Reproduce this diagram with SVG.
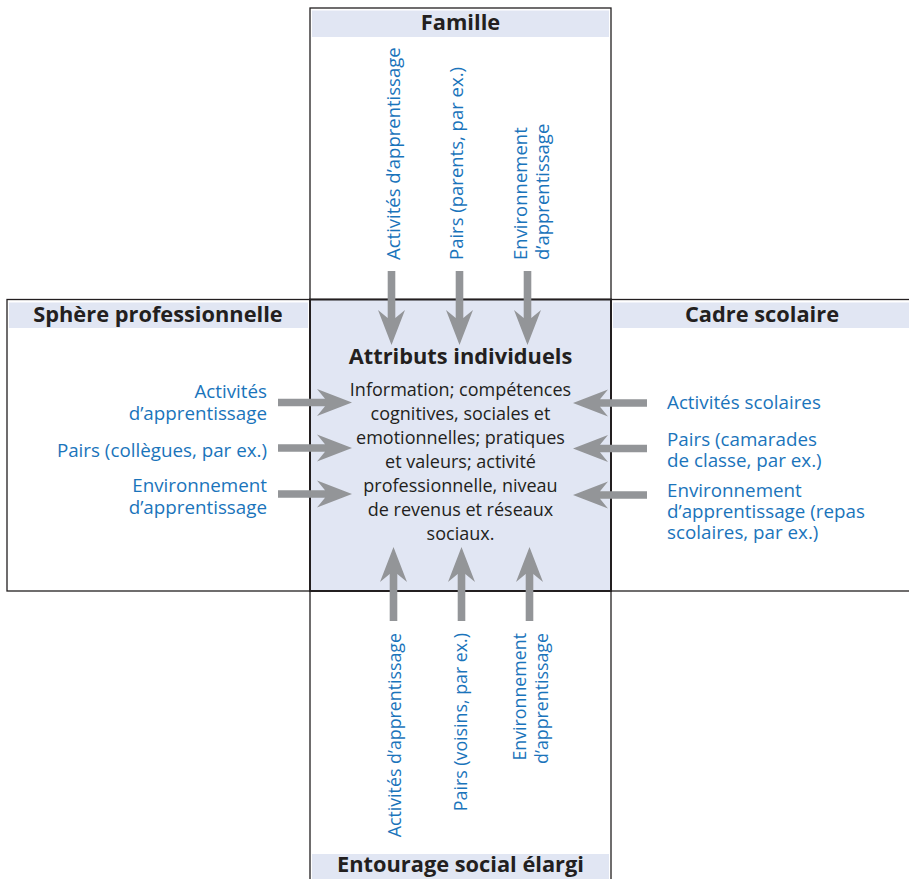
<svg xmlns="http://www.w3.org/2000/svg" width="909" height="879" viewBox="0 0 909 879">
<style>
.frame{fill:#ffffff;stroke:#231f20;stroke-width:1.3}
.band{fill:#e1e6f3}
.core{fill:#e1e6f3;stroke:#231f20;stroke-width:2}
.hdr{font-family:"Open Sans","Liberation Sans",sans-serif;font-weight:bold;font-size:21.8px;fill:#231f20;text-anchor:middle}
.ttl{font-family:"Open Sans","Liberation Sans",sans-serif;font-weight:bold;font-size:21.8px;fill:#231f20;text-anchor:middle}
.body{font-family:"Open Sans","Liberation Sans",sans-serif;font-size:18px;fill:#231f20;text-anchor:middle}
.lbl{font-family:"Open Sans","Liberation Sans",sans-serif;font-size:18.8px;fill:#1a74bb}
.vt{font-size:18.5px}
.vb{font-size:17.8px}
.r{text-anchor:end}
.arr{fill:#939598}
</style>
<defs>
<polygon id="arrow" points="0,0 -35,-13.5 -27,-3.8 -74,-3.8 -74,3.8 -27,3.8 -35,13.5"/>
</defs>
<g id="frames">
<rect class="frame" x="310" y="8" width="301" height="900"/>
<rect class="frame" x="7" y="299.5" width="920" height="291.5"/>
</g>
<g id="famille">
<rect class="band" x="312" y="10.5" width="297" height="26.5"/>
<text class="hdr" x="460.5" y="30">Famille</text>
<text class="lbl vt" transform="translate(400,260) rotate(-90)">Activités d’apprentissage</text>
<text class="lbl vt" transform="translate(463,260) rotate(-90)">Pairs (parents, par ex.)</text>
<text class="lbl vt" transform="translate(527,260) rotate(-90)">Environnement</text>
<text class="lbl vt" transform="translate(549,260) rotate(-90)">d’apprentissage</text>
</g>
<g id="sphere-professionnelle">
<rect class="band" x="9" y="302.5" width="299" height="25.5"/>
<text class="hdr" x="158" y="321.5">Sphère professionnelle</text>
<text class="lbl r" x="267" y="398">Activités</text>
<text class="lbl r" x="267" y="420">d’apprentissage</text>
<text class="lbl r" x="267" y="457">Pairs (collègues, par ex.)</text>
<text class="lbl r" x="267" y="492">Environnement</text>
<text class="lbl r" x="267" y="514">d’apprentissage</text>
</g>
<g id="cadre-scolaire">
<rect class="band" x="613" y="302.5" width="296" height="25.5"/>
<text class="hdr" x="762" y="321.5">Cadre scolaire</text>
<text class="lbl" x="667" y="409">Activités scolaires</text>
<text class="lbl" x="667" y="446">Pairs (camarades</text>
<text class="lbl" x="667" y="467">de classe, par ex.)</text>
<text class="lbl" x="667" y="497">Environnement</text>
<text class="lbl" x="667" y="518">d’apprentissage (repas</text>
<text class="lbl" x="667" y="539">scolaires, par ex.)</text>
</g>
<g id="entourage-social">
<rect class="band" x="312" y="854" width="297" height="26"/>
<text class="hdr" x="460.5" y="871.5">Entourage social élargi</text>
<text class="lbl vb" text-anchor="end" transform="translate(401,633) rotate(-90)">Activités d’apprentissage</text>
<text class="lbl vb" text-anchor="end" transform="translate(467,633) rotate(-90)">Pairs (voisins, par ex.)</text>
<text class="lbl vb" text-anchor="end" transform="translate(526,633) rotate(-90)">Environnement</text>
<text class="lbl vb" text-anchor="end" transform="translate(548,633) rotate(-90)">d’apprentissage</text>
</g>
<g id="attributs-individuels">
<rect class="core" x="310" y="299.5" width="301" height="291.5"/>
<text class="ttl" x="460.5" y="363.5">Attributs individuels</text>
<text class="body" x="460.5" y="395.5">Information; compétences</text>
<text class="body" x="460.5" y="419.5">cognitives, sociales et</text>
<text class="body" x="460.5" y="443.5">emotionnelles; pratiques</text>
<text class="body" x="460.5" y="467.5">et valeurs; activité</text>
<text class="body" x="460.5" y="491.5">professionnelle, niveau</text>
<text class="body" x="460.5" y="515.5">de revenus et réseaux</text>
<text class="body" x="460.5" y="539.5">sociaux.</text>
</g>
<g id="connectors" class="arr">
<use href="#arrow" transform="translate(391.5,345) rotate(90)"/>
<use href="#arrow" transform="translate(459.5,345) rotate(90)"/>
<use href="#arrow" transform="translate(527.5,345) rotate(90)"/>
<use href="#arrow" transform="translate(393.5,547) rotate(-90)"/>
<use href="#arrow" transform="translate(461.5,547) rotate(-90)"/>
<use href="#arrow" transform="translate(529.5,547) rotate(-90)"/>
<use href="#arrow" transform="translate(352,402.5)"/>
<use href="#arrow" transform="translate(352,448)"/>
<use href="#arrow" transform="translate(352,494)"/>
<use href="#arrow" transform="translate(573,403) rotate(180)"/>
<use href="#arrow" transform="translate(573,448.5) rotate(180)"/>
<use href="#arrow" transform="translate(573,495) rotate(180)"/>
</g>
</svg>
